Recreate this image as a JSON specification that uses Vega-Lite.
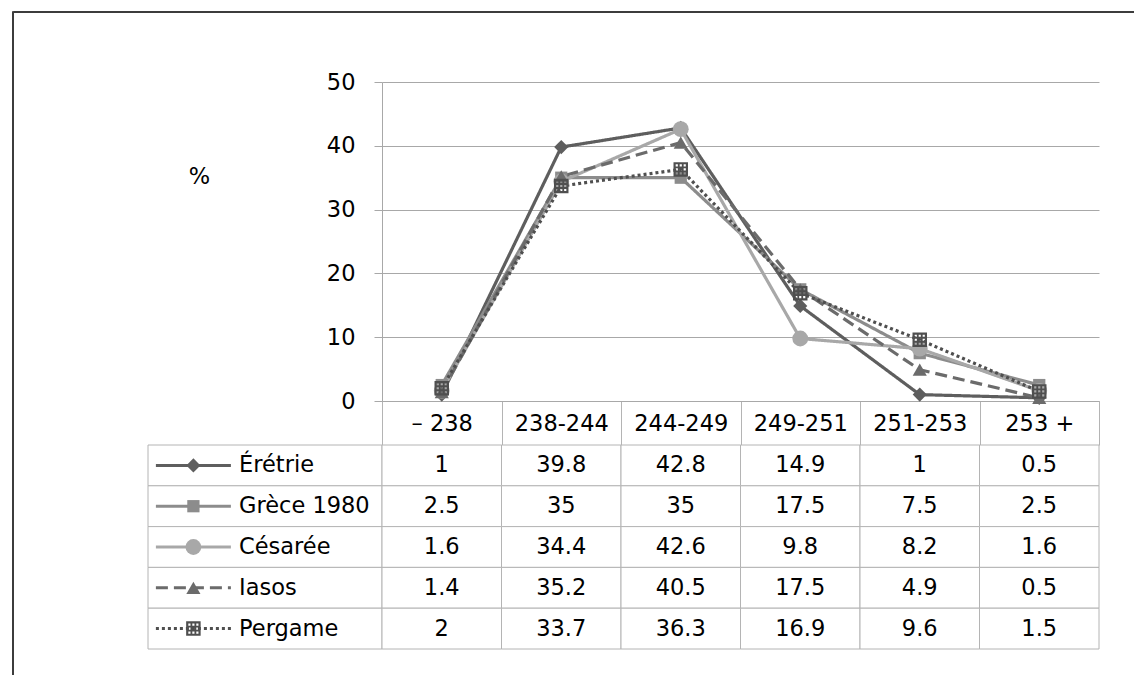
{
  "$schema": "https://vega.github.io/schema/vega-lite/v6.json",
  "padding": {"left": 11, "top": 10, "right": 0, "bottom": 0},
  "autosize": {"type": "pad"},
  "background": "white",
  "config": {
    "font": "DejaVu Sans",
    "view": {"stroke": null},
    "legend": {"disable": true},
    "concat": {"spacing": 0}
  },
  "datasets": {
    "pct": [
      {"series": "Érétrie", "cat": "– 238", "value": 1},
      {"series": "Érétrie", "cat": "238-244", "value": 39.8},
      {"series": "Érétrie", "cat": "244-249", "value": 42.8},
      {"series": "Érétrie", "cat": "249-251", "value": 14.9},
      {"series": "Érétrie", "cat": "251-253", "value": 1},
      {"series": "Érétrie", "cat": "253 +", "value": 0.5},
      {"series": "Grèce 1980", "cat": "– 238", "value": 2.5},
      {"series": "Grèce 1980", "cat": "238-244", "value": 35},
      {"series": "Grèce 1980", "cat": "244-249", "value": 35},
      {"series": "Grèce 1980", "cat": "249-251", "value": 17.5},
      {"series": "Grèce 1980", "cat": "251-253", "value": 7.5},
      {"series": "Grèce 1980", "cat": "253 +", "value": 2.5},
      {"series": "Césarée", "cat": "– 238", "value": 1.6},
      {"series": "Césarée", "cat": "238-244", "value": 34.4},
      {"series": "Césarée", "cat": "244-249", "value": 42.6},
      {"series": "Césarée", "cat": "249-251", "value": 9.8},
      {"series": "Césarée", "cat": "251-253", "value": 8.2},
      {"series": "Césarée", "cat": "253 +", "value": 1.6},
      {"series": "Iasos", "cat": "– 238", "value": 1.4},
      {"series": "Iasos", "cat": "238-244", "value": 35.2},
      {"series": "Iasos", "cat": "244-249", "value": 40.5},
      {"series": "Iasos", "cat": "249-251", "value": 17.5},
      {"series": "Iasos", "cat": "251-253", "value": 4.9},
      {"series": "Iasos", "cat": "253 +", "value": 0.5},
      {"series": "Pergame", "cat": "– 238", "value": 2},
      {"series": "Pergame", "cat": "238-244", "value": 33.7},
      {"series": "Pergame", "cat": "244-249", "value": 36.3},
      {"series": "Pergame", "cat": "249-251", "value": 16.9},
      {"series": "Pergame", "cat": "251-253", "value": 9.6},
      {"series": "Pergame", "cat": "253 +", "value": 1.5}
    ]
  },
  "spacing": 0,
  "bounds": "flush",
  "hconcat": [
    {"width": 1, "height": 665, "data": {"values": []}, "mark": "point", "encoding": {}, "view": {"stroke": "#3c3c3c"}},
    {
      "spacing": 70,
      "bounds": "flush",
      "vconcat": [
        {"width": 1122, "height": 1, "data": {"values": []}, "mark": "point", "encoding": {}, "view": {"stroke": "#3c3c3c"}},
        {
          "columns": 3,
          "align": "each",
          "spacing": {"row": 44, "column": 0},
          "bounds": "flush",
          "concat": [
            {"width": 135, "height": 319, "data": {"values": []}, "mark": "point", "encoding": {}},
            {"width": 234, "height": 319, "data": {"values": []}, "mark": "point", "encoding": {}},
            {
              "width": 717,
              "height": 319,
              "data": {"name": "pct"},
              "encoding": {
                "x": {
                  "field": "cat", "type": "nominal", "bandPosition": 0.5, "sort": null,
                  "scale": {"type": "band", "domain": ["– 238", "238-244", "244-249", "249-251", "251-253", "253 +"], "paddingInner": 0, "paddingOuter": 0},
                  "axis": {"title": null, "domain": true, "domainColor": "#a8a8a8", "ticks": true, "tickBand": "extent", "tickSize": 44, "tickColor": "#b4b4b4", "labelPadding": -22, "labelBaseline": "middle", "labelAngle": 0, "labelFontSize": 22.5, "labelColor": "#000000", "grid": false, "labelOverlap": false}
                },
                "y": {
                  "field": "value", "type": "quantitative",
                  "scale": {"domain": [0, 50], "nice": false},
                  "axis": {"title": "%", "titleAngle": 0, "titleX": -183, "titleY": 94, "titleAlign": "center", "titleBaseline": "middle", "titleFontSize": 22.5, "titleFontWeight": "normal", "titleColor": "#000000", "values": [0, 10, 20, 30, 40, 50], "tickSize": 8, "tickColor": "#a8a8a8", "domainColor": "#a8a8a8", "labelPadding": 19, "labelFontSize": 22.5, "labelColor": "#000000", "grid": true, "gridColor": "#a8a8a8", "labelFlush": false, "labelOverlap": false}
                },
                "color": {"field": "series", "type": "nominal", "scale": {"domain": ["Érétrie", "Grèce 1980", "Césarée", "Iasos", "Pergame"], "range": ["#5e5e5e", "#8c8c8c", "#a8a8a8", "#6b6b6b", "#4f4f4f"]}, "legend": null}
              },
              "layer": [
                {
                  "mark": {"type": "line", "strokeWidth": 3.2},
                  "encoding": {
                    "order": {"value": null},
                    "strokeDash": {"field": "series", "type": "nominal", "scale": {"domain": ["Érétrie", "Grèce 1980", "Césarée", "Iasos", "Pergame"], "range": [[1, 0], [1, 0], [1, 0], [12, 6], [3, 3]]}, "legend": null}
                  }
                },
                {
                  "mark": {"type": "point", "filled": true, "opacity": 1},
                  "encoding": {
                    "shape": {"field": "series", "type": "nominal", "scale": {"domain": ["Érétrie", "Grèce 1980", "Césarée", "Iasos", "Pergame"], "range": ["diamond", "square", "circle", "triangle-up", "M-1,-1H1V1H-1ZM-0.7,-0.7V-0.4H-0.4V-0.7ZM-0.15,-0.7V-0.4H0.15V-0.7ZM0.4,-0.7V-0.4H0.7V-0.7ZM-0.7,-0.15V0.15H-0.4V-0.15ZM-0.15,-0.15V0.15H0.15V-0.15ZM0.4,-0.15V0.15H0.7V-0.15ZM-0.7,0.4V0.7H-0.4V0.4ZM-0.15,0.4V0.7H0.15V0.4ZM0.4,0.4V0.7H0.7V0.4Z"]}, "legend": null},
                    "size": {"field": "series", "type": "nominal", "scale": {"type": "ordinal", "domain": ["Érétrie", "Grèce 1980", "Césarée", "Iasos", "Pergame"], "range": [200, 150, 250, 200, 210]}, "legend": null}
                  }
                }
              ]
            },
            {"width": 135, "height": 204, "data": {"values": []}, "mark": "point", "encoding": {}},
            {
              "width": 234,
              "height": 204,
              "data": {"name": "pct"},
              "transform": [{"filter": {"field": "cat", "equal": "– 238"}}],
              "encoding": {
                "y": {"field": "series", "type": "nominal", "bandPosition": 0.5, "scale": {"type": "band", "domain": ["Érétrie", "Grèce 1980", "Césarée", "Iasos", "Pergame"], "paddingInner": 0, "paddingOuter": 0}, "axis": null}
              },
              "layer": [
                {
                  "mark": {"type": "rect", "fill": "white", "stroke": "#b4b4b4", "strokeWidth": 1},
                  "encoding": {"y": {"field": "series", "type": "nominal", "axis": null}}
                },
                {
                  "mark": {"type": "point", "shape": "M-1,0H1", "size": 5625, "filled": false, "strokeWidth": 3, "opacity": 1},
                  "encoding": {
                    "x": {"datum": "lab", "type": "nominal", "bandPosition": 0.194, "scale": {"type": "band", "paddingInner": 0, "paddingOuter": 0}, "axis": null},
                    "color": {"field": "series", "type": "nominal", "scale": {"domain": ["Érétrie", "Grèce 1980", "Césarée", "Iasos", "Pergame"], "range": ["#5e5e5e", "#8c8c8c", "#a8a8a8", "#6b6b6b", "#4f4f4f"]}, "legend": null},
                    "strokeDash": {"field": "series", "type": "nominal", "scale": {"domain": ["Érétrie", "Grèce 1980", "Césarée", "Iasos", "Pergame"], "range": [[1, 0], [1, 0], [1, 0], [12, 6], [3, 3]]}, "legend": null}
                  }
                },
                {
                  "mark": {"type": "point", "filled": true, "opacity": 1},
                  "encoding": {
                    "x": {"datum": "lab", "type": "nominal", "bandPosition": 0.194, "axis": null},
                    "color": {"field": "series", "type": "nominal", "legend": null},
                    "shape": {"field": "series", "type": "nominal", "scale": {"domain": ["Érétrie", "Grèce 1980", "Césarée", "Iasos", "Pergame"], "range": ["diamond", "square", "circle", "triangle-up", "M-1,-1H1V1H-1ZM-0.7,-0.7V-0.4H-0.4V-0.7ZM-0.15,-0.7V-0.4H0.15V-0.7ZM0.4,-0.7V-0.4H0.7V-0.7ZM-0.7,-0.15V0.15H-0.4V-0.15ZM-0.15,-0.15V0.15H0.15V-0.15ZM0.4,-0.15V0.15H0.7V-0.15ZM-0.7,0.4V0.7H-0.4V0.4ZM-0.15,0.4V0.7H0.15V0.4ZM0.4,0.4V0.7H0.7V0.4Z"]}, "legend": null},
                    "size": {"field": "series", "type": "nominal", "scale": {"type": "ordinal", "domain": ["Érétrie", "Grèce 1980", "Césarée", "Iasos", "Pergame"], "range": [200, 150, 250, 200, 210]}, "legend": null}
                  }
                },
                {
                  "mark": {"type": "text", "align": "left", "baseline": "middle", "fontSize": 22.5, "fill": "#000000"},
                  "encoding": {
                    "x": {"datum": "lab", "type": "nominal", "bandPosition": 0.389, "axis": null},
                    "text": {"field": "series", "type": "nominal"}
                  }
                }
              ]
            },
            {
              "width": 717,
              "height": 204,
              "data": {"name": "pct"},
              "encoding": {
                "x": {"field": "cat", "type": "nominal", "bandPosition": 0.5, "sort": null, "scale": {"type": "band", "domain": ["– 238", "238-244", "244-249", "249-251", "251-253", "253 +"], "paddingInner": 0, "paddingOuter": 0}, "axis": null},
                "y": {"field": "series", "type": "nominal", "bandPosition": 0.5, "scale": {"type": "band", "domain": ["Érétrie", "Grèce 1980", "Césarée", "Iasos", "Pergame"], "paddingInner": 0, "paddingOuter": 0}, "axis": null}
              },
              "layer": [
                {
                  "mark": {"type": "rect", "fill": "white", "stroke": "#b4b4b4", "strokeWidth": 1},
                  "encoding": {
                    "x": {"field": "cat", "type": "nominal", "axis": null},
                    "y": {"field": "series", "type": "nominal", "axis": null}
                  }
                },
                {
                  "mark": {"type": "text", "align": "center", "baseline": "middle", "fontSize": 22.5, "fill": "#000000"},
                  "encoding": {"text": {"field": "value", "type": "nominal"}}
                }
              ]
            }
          ]
        }
      ]
    }
  ]
}
